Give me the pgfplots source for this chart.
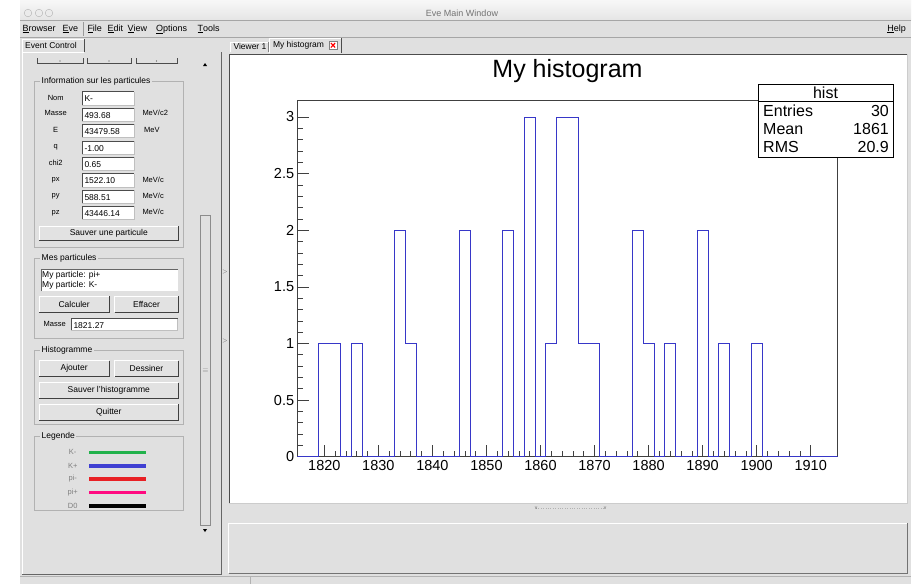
\documentclass[border=0pt]{standalone}
\usepackage{pgfplots}
\pgfplotsset{compat=1.18}
\usepackage{fontspec}
\setmainfont{Liberation Sans}
\definecolor{guibg}{RGB}{224,224,224}
\definecolor{btnface}{RGB}{226,226,226}
\definecolor{histblue}{RGB}{55,55,200}
\definecolor{lgreen}{RGB}{34,178,76}
\definecolor{lblue}{RGB}{64,64,210}
\definecolor{lred}{RGB}{232,32,36}
\definecolor{lpink}{RGB}{255,10,128}
\newcommand{\btn}[5]{%
  \fill[btnface] (#1,#2) rectangle (#3,#4);
  \draw[white,line width=0.8pt] (#1,#4) -- (#1,#2) -- (#3,#2);
  \draw[black!75,line width=0.9pt] (#1,#4) -- (#3,#4) -- (#3,#2);
  \node[inner sep=0pt] at ({(#1+#3)/2},{(#2+#4)/2}) {#5};}
\newcommand{\field}[5]{%
  \fill[white] (#1,#2) rectangle (#3,#4);
  \draw[black!70,line width=0.9pt] (#1,#4) -- (#1,#2) -- (#3,#2);
  \draw[black!25,line width=0.6pt] (#1,#4) -- (#3,#4) -- (#3,#2);
  \node[anchor=west,inner sep=0pt] at ({#1+2},{(#2+#4)/2+0.5}) {#5};}
\newcommand{\grp}[5]{%
  \draw[black!30,line width=0.6pt] (#1,#2) rectangle (#3,#4);
  \node[anchor=west,fill=guibg,inner xsep=1.5pt,inner ysep=0.5pt] at ({#1+6},#2) {#5};}
\begin{document}
\begin{tikzpicture}[x=1pt,y=-1pt,font=\fontsize{8.5}{10}\selectfont]
\useasboundingbox (0,0) rectangle (917,584);
\fill[white] (0,0) rectangle (917,584);
\fill[guibg] (20,20) rectangle (911,584);
% title bar
\shade[top color=white!97!black,bottom color=black!10] (20,0) rectangle (911,20);
\foreach \cx in {28,39,49} {\draw[black!30,fill=white!92!black] (\cx,13) circle (3.8);}
\node[text=black!55,font=\fontsize{9}{10}\selectfont] at (462,13) {Eve Main Window};
% menu bar
\draw[black!35] (20,20.5) -- (911,20.5);
\draw[black!35] (20,37.5) -- (911,37.5);
\begin{scope}[font=\fontsize{9}{10}\selectfont]
\node[anchor=west,inner sep=0pt] at (22.5,29) {\underline{B}rowser};
\node[anchor=west,inner sep=0pt] at (62.5,29) {\underline{E}ve};
\draw[black!40] (82.7,22) -- (82.7,36);
\node[anchor=west,inner sep=0pt] at (87.3,29) {\underline{F}ile};
\node[anchor=west,inner sep=0pt] at (107.3,29) {\underline{E}dit};
\node[anchor=west,inner sep=0pt] at (127.3,29) {\underline{V}iew};
\node[anchor=west,inner sep=0pt] at (156,29) {\underline{O}ptions};
\node[anchor=west,inner sep=0pt] at (197.3,29) {\underline{T}ools};
\node[anchor=east,inner sep=0pt] at (906,29) {\underline{H}elp};
\end{scope}
% left tab and panel
\draw[white] (22,52) -- (22,39) -- (84,39);
\draw[black!70,line width=0.9pt] (84,39) -- (84,52);
\node[anchor=west,inner sep=0pt,font=\fontsize{8.5}{10}\selectfont] at (25,45.5) {Event Control};
\draw[white] (22,574) -- (22,52) -- (84,52);
\draw[black!60,line width=0.8pt] (221.5,52) -- (221.5,574) -- (22,574);
% top cut buttons
\foreach \a/\b in {37/83,87/131,136/177} {
  \draw[black!70,line width=0.8pt] (\a,58) -- (\a,63) -- (\b,63) -- (\b,58);
  \fill[black!70] ({(\a+\b)/2},61) circle (0.6);}
\fill[black] (203,66) -- (207,66) -- (205,63) -- cycle;
% scrollbar
\draw[black!45] (200,215) rectangle (210.5,525);
\fill[black] (203,529) -- (207,529) -- (205,532) -- cycle;
\node[text=black!45,font=\fontsize{7}{8}\selectfont] at (205.5,370.5) {$\equiv$};
\node[text=black!60,font=\fontsize{6}{7}\selectfont] at (225,272) {$>$};
\node[text=black!60,font=\fontsize{6}{7}\selectfont] at (225,341) {$>$};
% group: information
\grp{34}{81.7}{183}{247}{Information sur les particules}
\foreach \lab/\yy in {Nom/97.7,Masse/113,E/130,q/147,chi2/163,px/180,py/196.7,pz/213} {
  \node[font=\fontsize{7.5}{9}\selectfont] at (55.7,\yy) {\lab};}
\field{82.3}{91.7}{134.3}{105}{K-}
\field{82.3}{108}{134.3}{121.3}{493.68}
\field{82.3}{124.3}{134.3}{137.6}{43479.58}
\field{82.3}{141}{134.3}{154.3}{-1.00}
\field{82.3}{157.3}{134.3}{170.6}{0.65}
\field{82.3}{173.7}{134.3}{187}{1522.10}
\field{82.3}{190}{134.3}{203.3}{588.51}
\field{82.3}{206.3}{134.3}{219.6}{43446.14}
\begin{scope}[font=\fontsize{7.5}{9}\selectfont]
\node[anchor=west,inner sep=0pt] at (142.3,113) {MeV/c2};
\node[anchor=west,inner sep=0pt] at (144,129.5) {MeV};
\node[anchor=west,inner sep=0pt] at (142.3,179.5) {MeV/c};
\node[anchor=west,inner sep=0pt] at (142.3,195.5) {MeV/c};
\node[anchor=west,inner sep=0pt] at (142.3,211.5) {MeV/c};
\end{scope}
\btn{39.3}{226}{178.3}{240.5}{Sauver une particule}
% group: mes particules
\grp{34}{258.3}{183}{338.3}{Mes particules}
\fill[white] (40.7,269.3) rectangle (177.7,291);
\draw[black!60] (40.7,291) -- (40.7,269.3) -- (177.7,269.3);
\node[anchor=west,inner sep=0pt] at (42,275.5) {My particle: pi+};
\node[anchor=west,inner sep=0pt] at (42,285) {My particle: K-};
\btn{39.3}{296}{109}{312.3}{Calculer}
\btn{114.7}{296}{178.3}{312.3}{Effacer}
\node[font=\fontsize{7.5}{9}\selectfont] at (54.7,324) {Masse};
\field{71.3}{318.7}{177.7}{330.7}{1821.27}
% group: histogramme
\grp{34}{350}{183}{424}{Histogramme}
\btn{39.3}{360.7}{109}{376.7}{Ajouter}
\btn{114.7}{360.7}{178.3}{376.7}{Dessiner}
\btn{39.3}{382.7}{178.3}{398}{Sauver l'histogramme}
\btn{39.3}{404.3}{178.3}{420}{Quitter}
% group: legende
\grp{34}{436}{183}{510.7}{Legende}
\foreach \lab/\yy/\cc in {K-/452.3/lgreen,K+/465.7/lblue,pi-/479/lred,pi+/492.3/lpink,D0/505.7/black} {
  \node[text=black!50,font=\fontsize{7.5}{9}\selectfont] at (72.7,\yy) {\lab};
  \draw[\cc,line width=3.6pt] (89.3,\yy) -- (145.7,\yy);}
% right tabs
\draw[white] (230,52) -- (230,42) -- (268,42);
\draw[black!50] (268,42) -- (268,52);
\node[anchor=west,inner sep=0pt,font=\fontsize{8.5}{10}\selectfont] at (233.3,46.5) {Viewer 1};
\draw[white] (269.5,53) -- (269.5,38) -- (341.7,38);
\draw[black!70,line width=0.9pt] (341.7,38) -- (341.7,53);
\node[anchor=west,inner sep=0pt,font=\fontsize{8.5}{10}\selectfont] at (272.8,45.5) {My histogram};
\fill[white] (329.3,41.5) rectangle (336.7,49);
\draw[black!50] (329.3,41.5) rectangle (336.7,49);
\draw[red,line width=1.1pt] (330.8,43) -- (335.2,47.5) (330.8,47.5) -- (335.2,43);
% pad
\fill[white] (229.3,54) rectangle (907.5,502.7);
\draw[black!70,line width=0.9pt] (229.3,502.7) -- (229.3,54) -- (907.5,54);
\draw[black!20] (907.5,54) -- (907.5,502.7) -- (229.3,502.7);
\draw[black!30,dotted] (536,507.7) -- (605,507.7);
\node[font=\fontsize{5}{6}\selectfont,text=black!60] at (536,507.7) {v};
\node[font=\fontsize{5}{6}\selectfont,text=black!60] at (605,507.7) {v};
% bottom panel
\draw[white] (228.6,573.3) -- (228.6,523.3) -- (907.5,523.3);
\draw[black!55] (228.6,573.3) -- (907.5,573.3) -- (907.5,523.3);
% status bar
\draw[black!30] (20,576.5) -- (911,576.5);
\draw[black!30] (249.8,576.5) -- (249.8,584);
% the histogram
\begin{axis}[
  at={(297.3pt,-100pt)}, anchor=north west,
  scale only axis, width=540.4pt, height=356.7pt,
  xmin=1815, xmax=1915, ymin=0, ymax=3.15,
  axis line style={black!75,line width=0.7pt},
  xtick={1820,1830,...,1910}, minor x tick num=4,
  ytick={0,0.5,1,1.5,2,2.5,3}, minor y tick num=4,
  xtick pos=bottom, ytick pos=left, tick align=inside,
  major tick length=12pt, minor tick length=6pt,
  every tick/.style={black!75,line width=0.6pt},
  tick label style={font=\fontsize{14.5}{16}\selectfont},
  /pgf/number format/assume math mode=true,
  /pgf/number format/1000 sep={},
  xticklabel style={inner sep=1pt,yshift=-2pt},
  yticklabel style={inner sep=1pt,xshift=-2pt},
]
\addplot[const plot, histblue, line width=0.9pt] coordinates {
(1815,0) (1817,0) (1819,1) (1821,1) (1823,0) (1825,1) (1827,0) (1829,0)
(1831,0) (1833,2) (1835,1) (1837,0) (1839,0) (1841,0) (1843,0) (1845,2)
(1847,0) (1849,0) (1851,0) (1853,2) (1855,0) (1857,3) (1859,0) (1861,1)
(1863,3) (1865,3) (1867,1) (1869,1) (1871,0) (1873,0) (1875,0) (1877,2)
(1879,1) (1881,0) (1883,1) (1885,0) (1887,0) (1889,2) (1891,0) (1893,1)
(1895,0) (1897,0) (1899,1) (1901,0) (1903,0) (1905,0) (1907,0) (1909,0)
(1911,0) (1913,0) (1915,0)};
\end{axis}
% title and stats box
\node[font=\fontsize{25}{28}\selectfont] at (567.5,71.5) {My histogram};
\fill[white] (758,84) rectangle (893,157);
\draw[black,line width=0.8pt] (758,84) rectangle (893,157);
\draw[black,line width=0.8pt] (758,101.5) -- (893,101.5);
\begin{scope}[font=\fontsize{16}{18}\selectfont]
\node at (825.5,92.5) {hist};
\node[anchor=base west,inner sep=0pt] at (763,116) {Entries};
\node[anchor=base east,inner sep=0pt] at (889,116) {30};
\node[anchor=base west,inner sep=0pt] at (763,134) {Mean};
\node[anchor=base east,inner sep=0pt] at (889,134) {1861};
\node[anchor=base west,inner sep=0pt] at (763,152) {RMS};
\node[anchor=base east,inner sep=0pt] at (889,152) {20.9};
\end{scope}
\end{tikzpicture}
\end{document}
